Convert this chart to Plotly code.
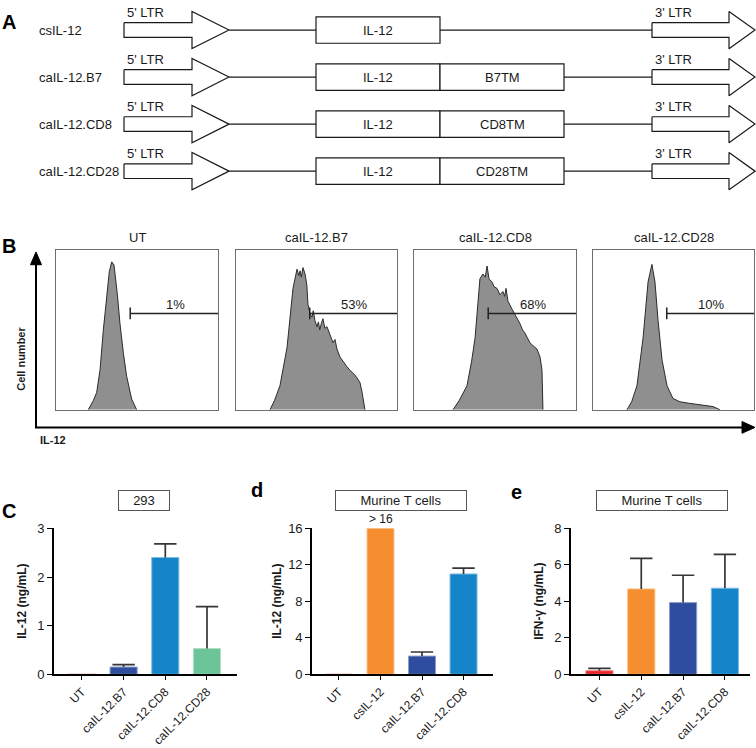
import plotly.graph_objects as go

# ---------------- Panel A: constructs ----------------
constructs = ["csIL-12", "caIL-12.B7", "caIL-12.CD8", "caIL-12.CD28"]
cargo = ["IL-12", "IL-12", "IL-12", "IL-12"]
tm_domains = [None, "B7TM", "CD8TM", "CD28TM"]
ltr5_label = "5' LTR"
ltr3_label = "3' LTR"

# ---------------- Panel B: flow histograms ----------------
hist_titles = ["UT", "caIL-12.B7", "caIL-12.CD8", "caIL-12.CD28"]
hist_pct = ["1%", "53%", "68%", "10%"]
ut_x = [19.9, 23.0, 25.1, 27.2, 29.2, 31.3, 32.9, 34.4, 35.8, 37.9, 39.5, 41.6, 43.6, 46.7, 49.8]
ut_y = [0, 5.7, 10.8, 25, 49.7, 70, 86.5, 92.6, 90.6, 72, 53.8, 35.4, 21, 6.7, 0]
b7_x = [21.1, 24.0, 27.3, 31.7, 35.4, 37.9, 39.0, 39.8, 40.6, 41.6, 42.9, 44.0, 44.7, 46.0, 47.2, 48.0,
        49.0, 50.3, 51.2, 52.0, 53.0, 54.0, 55.2, 56.5, 58.4, 60.2, 61.5, 62.7, 64.6, 66.5, 68.9,
        70.5, 72.7, 74.5, 75.8, 77.0, 78.3, 79.5, 80.1]
b7_y = [0, 6, 15, 39, 76, 88, 84, 87, 83, 89, 85, 78, 66, 60, 58, 62,
        56, 52, 55, 50, 54, 57, 51, 52, 47, 42, 44, 38, 33, 30, 27,
        25, 23, 21, 19, 17, 11, 5, 0]
cd8_x = [24.1, 28.0, 32.7, 35.5, 37.7, 39.5, 40.7, 42.6, 44.0, 45.1, 46.3, 48.1, 49.5, 51.2, 53.1,
         54.9, 56.0, 56.8, 58.0, 60.5, 62.3, 64.0, 65.4, 67.0, 68.5, 70.0, 71.6, 73.5, 75.9, 77.8,
         79.0, 79.6]
cd8_y = [0, 6, 15, 30, 45, 66, 82, 85, 83, 90, 82, 80, 77, 76, 72,
         74, 71, 76, 68, 63, 60, 57, 54, 50, 48, 45, 42, 40, 38, 33,
         25, 0]
cd28_x = [21.1, 24.0, 27.3, 31.1, 34.2, 36.6, 38.5, 40.4, 42.9, 46.0, 49.7, 54.0, 60.0, 64.6, 70.0, 74.5, 78.9]
cd28_y = [0, 5, 15, 45, 80, 91, 80, 56, 31, 15, 7, 5, 4, 3.5, 2.5, 2, 0]
hist_x = [ut_x, b7_x, cd8_x, cd28_x]
hist_y = [ut_y, b7_y, cd8_y, cd28_y]

# ---------------- Panels C-E: bar charts ----------------
c_title = "293"
c_cats = ["UT", "caIL-12.B7", "caIL-12.CD8", "caIL-12.CD28"]
c_vals = [0, 0.15, 2.40, 0.53]
c_errtop = [None, 0.20, 2.68, 1.39]
c_colors = ["#E8262A", "#2F4D9E", "#1684C8", "#6CC598"]

d_title = "Murine T cells"
d_cats = ["UT", "csIL-12", "caIL-12.B7", "caIL-12.CD8"]
d_vals = [0, 16.0, 2.0, 11.0]
d_errtop = [None, None, 2.45, 11.65]
d_colors = ["#E8262A", "#F68E2F", "#2F4D9E", "#1684C8"]

e_title = "Murine T cells"
e_cats = ["UT", "csIL-12", "caIL-12.B7", "caIL-12.CD8"]
e_vals = [0.20, 4.68, 3.93, 4.72]
e_errtop = [0.33, 6.35, 5.43, 6.57]
e_colors = ["#E8262A", "#F68E2F", "#2F4D9E", "#1684C8"]

# ---------------- geometry helpers ----------------
W, H = 756, 748
FONT = "Arial, Liberation Sans, sans-serif"
INK = "#1a1a1a"
ERR = "#363636"


def fx(p):
    return p / W


def fy(p):
    return 1 - p / H


def ptext(x, y, text, size=13, xanchor="center", **kw):
    return dict(x=fx(x), y=fy(y), xref="paper", yref="paper", text=text, showarrow=False,
                xanchor=xanchor, yanchor="middle", font=dict(size=size, color=kw.pop("color", INK)), **kw)


fig = go.Figure()
shapes = []
annotations = []

# ---------- Panel A drawing ----------
ROW0, ROW_STEP = 23.5, 48
LTR5 = (124, 192, 229)
LTR3 = (652, 729, 755)
BODY_H, HEAD_H = 7.5, 19
BOX_L, BOX_W, BOX_H = 316, 124, 13.5


def arrow_xy(x0, xh, tip, yc):
    xs = [x0, xh, xh, tip, xh, xh, x0, x0]
    ys = [yc - BODY_H, yc - BODY_H, yc - HEAD_H, yc, yc + HEAD_H, yc + BODY_H, yc + BODY_H, yc - BODY_H]
    return xs, ys


for i, name in enumerate(constructs):
    yc = ROW0 + ROW_STEP * i
    for (a, b, c), lab in ((LTR5, ltr5_label), (LTR3, ltr3_label)):
        xs, ys = arrow_xy(a, b, c, yc)
        fig.add_trace(go.Scatter(x=xs, y=ys, mode="lines", fill="toself", fillcolor="white",
                                 line=dict(color=INK, width=1.2), xaxis="x", yaxis="y",
                                 hoverinfo="skip"))
        annotations.append(dict(x=a + 1, y=yc - 18, xref="x", yref="y", text=lab, showarrow=False,
                                xanchor="left", yanchor="middle", font=dict(size=13, color=INK)))
    boxes = [cargo[i]] + ([tm_domains[i]] if tm_domains[i] else [])
    right = BOX_L
    for lab in boxes:
        shapes.append(dict(type="rect", xref="x", yref="y", x0=right, x1=right + BOX_W,
                           y0=yc - BOX_H, y1=yc + BOX_H, line=dict(color=INK, width=1.2),
                           fillcolor="white", layer="above"))
        annotations.append(dict(x=right + BOX_W / 2, y=yc, xref="x", yref="y", text=lab, showarrow=False,
                                xanchor="center", yanchor="middle", font=dict(size=13, color=INK)))
        right += BOX_W
    fig.add_trace(go.Scatter(x=[LTR5[2], BOX_L, None, right, LTR3[0]], y=[yc, yc, None, yc, yc],
                             mode="lines", line=dict(color=INK, width=1.2), xaxis="x", yaxis="y",
                             hoverinfo="skip"))
    annotations.append(ptext(37, yc, name, xanchor="left"))

layout_axes = {
    "xaxis": dict(domain=[0, 1], range=[0, W], visible=False, fixedrange=True),
    "yaxis": dict(domain=[fy(200), 1], range=[200, 0], visible=False, fixedrange=True),
}

# ---------- Panel B drawing ----------
hist_domains = [(56, 218), (236, 397), (414, 576), (593, 754)]
HB_TOP, HB_BOT = 248, 411
GATE_X0, GATE_Y, GATE_TICK, PCT_X, PCT_Y = 45.8, 60.3, 3.7, 73.5, 66
for k in range(4):
    n = k + 2
    xa, ya = f"x{n}", f"y{n}"
    fig.add_trace(go.Scatter(x=hist_x[k], y=hist_y[k], mode="lines", fill="tozeroy",
                             fillcolor="#8f8f8f", line=dict(color="#2b2b2b", width=1),
                             xaxis=xa, yaxis=ya, hoverinfo="skip"))
    fig.add_trace(go.Scatter(x=[GATE_X0, 100, None, GATE_X0, GATE_X0],
                             y=[GATE_Y, GATE_Y, None, GATE_Y - GATE_TICK, GATE_Y + GATE_TICK],
                             mode="lines", line=dict(color="#222", width=1.5),
                             xaxis=xa, yaxis=ya, hoverinfo="skip"))
    annotations.append(dict(x=PCT_X, y=PCT_Y, xref=xa, yref=ya, text=hist_pct[k], showarrow=False,
                            xanchor="center", yanchor="middle", font=dict(size=13, color=INK)))
    d0, d1 = hist_domains[k]
    annotations.append(ptext((d0 + d1) / 2, 235, hist_titles[k]))
    ax_common = dict(showgrid=False, zeroline=False, showticklabels=False, ticks="",
                     showline=True, mirror=True, linecolor="#6e6e6e", linewidth=1, fixedrange=True)
    layout_axes[f"xaxis{n}"] = dict(domain=[fx(d0), fx(d1)], range=[0, 100], anchor=ya, **ax_common)
    layout_axes[f"yaxis{n}"] = dict(domain=[fy(HB_BOT), fy(HB_TOP)], range=[0, 100], anchor=xa, **ax_common)

# Large axes arrows for panel B
shapes.append(dict(type="line", xref="paper", yref="paper", x0=fx(36), x1=fx(36), y0=fy(429), y1=fy(261),
                   line=dict(color="black", width=2)))
shapes.append(dict(type="line", xref="paper", yref="paper", x0=fx(35), x1=fx(744), y0=fy(429), y1=fy(429),
                   line=dict(color="black", width=2)))
shapes.append(dict(type="path", xref="paper", yref="paper",
                   path=f"M {fx(36)},{fy(250)} L {fx(30.5)},{fy(263)} L {fx(41.5)},{fy(263)} Z",
                   fillcolor="black", line=dict(color="black", width=1)))
shapes.append(dict(type="path", xref="paper", yref="paper",
                   path=f"M {fx(755)},{fy(429)} L {fx(742)},{fy(423)} L {fx(742)},{fy(435)} Z",
                   fillcolor="black", line=dict(color="black", width=1)))
annotations.append(ptext(21, 359, "<b>Cell number</b>", size=11, textangle=-90))
annotations.append(ptext(38, 442, "<b>IL-12</b>", size=11, xanchor="left"))

# ---------- Panels C-E drawing ----------
bar_panels = [
    (c_cats, c_vals, c_errtop, c_colors, c_title, (54, 237), [-0.67, 3.72], [0, 3], [0, 1, 2, 3],
     "IL-12 (ng/mL)", 22, 48, 144),
    (d_cats, d_vals, d_errtop, d_colors, d_title, (312, 493), [-0.65, 3.71], [0, 16], [0, 4, 8, 12, 16],
     "IL-12 (ng/mL)", 277, 128, 401),
    (e_cats, e_vals, e_errtop, e_colors, e_title, (571, 750), [-0.68, 3.6], [0, 8], [0, 2, 4, 6, 8],
     "IFN-γ (ng/mL)", 539, 128, 662),
]
BAR_TOP, BAR_BOT = 532, 681


def lighten(hexc, f=0.45):
    r, g, b = int(hexc[1:3], 16), int(hexc[3:5], 16), int(hexc[5:7], 16)
    r, g, b = [int(v + (255 - v) * f) for v in (r, g, b)]
    return f"#{r:02x}{g:02x}{b:02x}"


for j, (cats, vals, errtop, cols, title, (d0, d1), xr, yr, tv, ytitle, ytx, boxw, boxx) in enumerate(bar_panels):
    n = j + 6
    xa, ya = f"x{n}", f"y{n}"
    for c, v, et, col in zip(cats, vals, errtop, cols):
        err = dict(visible=False)
        if et is not None:
            # upward stem only; the cap is drawn as a marker at the top
            err = dict(type="data", symmetric=False, array=[et - v], arrayminus=[0],
                       color=ERR, thickness=1.7, width=0)
        fig.add_trace(go.Bar(x=[c], y=[v], width=0.65,
                             marker=dict(color=col, line=dict(color=lighten(col), width=1)),
                             error_y=err, xaxis=xa, yaxis=ya, hoverinfo="skip"))
    cap_x = [c for c, et in zip(cats, errtop) if et is not None]
    cap_y = [et for et in errtop if et is not None]
    fig.add_trace(go.Scatter(x=cap_x, y=cap_y, mode="markers", xaxis=xa, yaxis=ya, hoverinfo="skip",
                             marker=dict(symbol="line-ew", size=16, color=ERR,
                                         line=dict(color=ERR, width=1.7))))
    layout_axes[f"xaxis{n}"] = dict(domain=[fx(d0), fx(d1)], range=xr, anchor=ya, type="category",
                                    categoryorder="array", categoryarray=cats,
                                    showgrid=False, zeroline=False, showline=True, linecolor="black",
                                    linewidth=1.6, ticks="outside", ticklen=4, tickwidth=1.3, tickcolor="black",
                                    tickangle=-45, tickfont=dict(size=12, color=INK), fixedrange=True)
    layout_axes[f"yaxis{n}"] = dict(domain=[fy(BAR_BOT), fy(BAR_TOP)], range=yr, anchor=xa,
                                    tickvals=tv, showgrid=False, zeroline=False, showline=True,
                                    linecolor="black", linewidth=1.6, ticks="outside", ticklen=5,
                                    tickwidth=1.3, tickcolor="black", tickfont=dict(size=13, color=INK),
                                    fixedrange=True)
    annotations.append(ptext(ytx, 607, f"<b>{ytitle}</b>", size=12, textangle=-90))
    annotations.append(ptext(boxx, 503.5, title, width=boxw, height=17, borderpad=1,
                             bordercolor="#555", borderwidth=1))

annotations.append(dict(x="csIL-12", y=16, xref="x7", yref="y7", text="> 16", showarrow=False,
                        xanchor="center", yanchor="bottom", yshift=0, font=dict(size=12, color=INK)))

# Panel letters
for lab, px_, py_ in (("A", 9, 15), ("B", 9, 244), ("C", 9, 514), ("d", 257, 493), ("e", 516, 495)):
    annotations.append(ptext(px_, py_, f"<b>{lab}</b>", size=20, color="black"))

fig.update_layout(width=W, height=H, margin=dict(l=0, r=0, t=0, b=0), paper_bgcolor="white",
                  plot_bgcolor="rgba(0,0,0,0)", showlegend=False, barmode="overlay",
                  font=dict(family=FONT, color=INK), shapes=shapes, annotations=annotations,
                  **layout_axes)
fig.write_html("out.html", config={"displayModeBar": False},
               post_script="document.body.style.margin='0px';document.body.style.overflow='hidden';")
